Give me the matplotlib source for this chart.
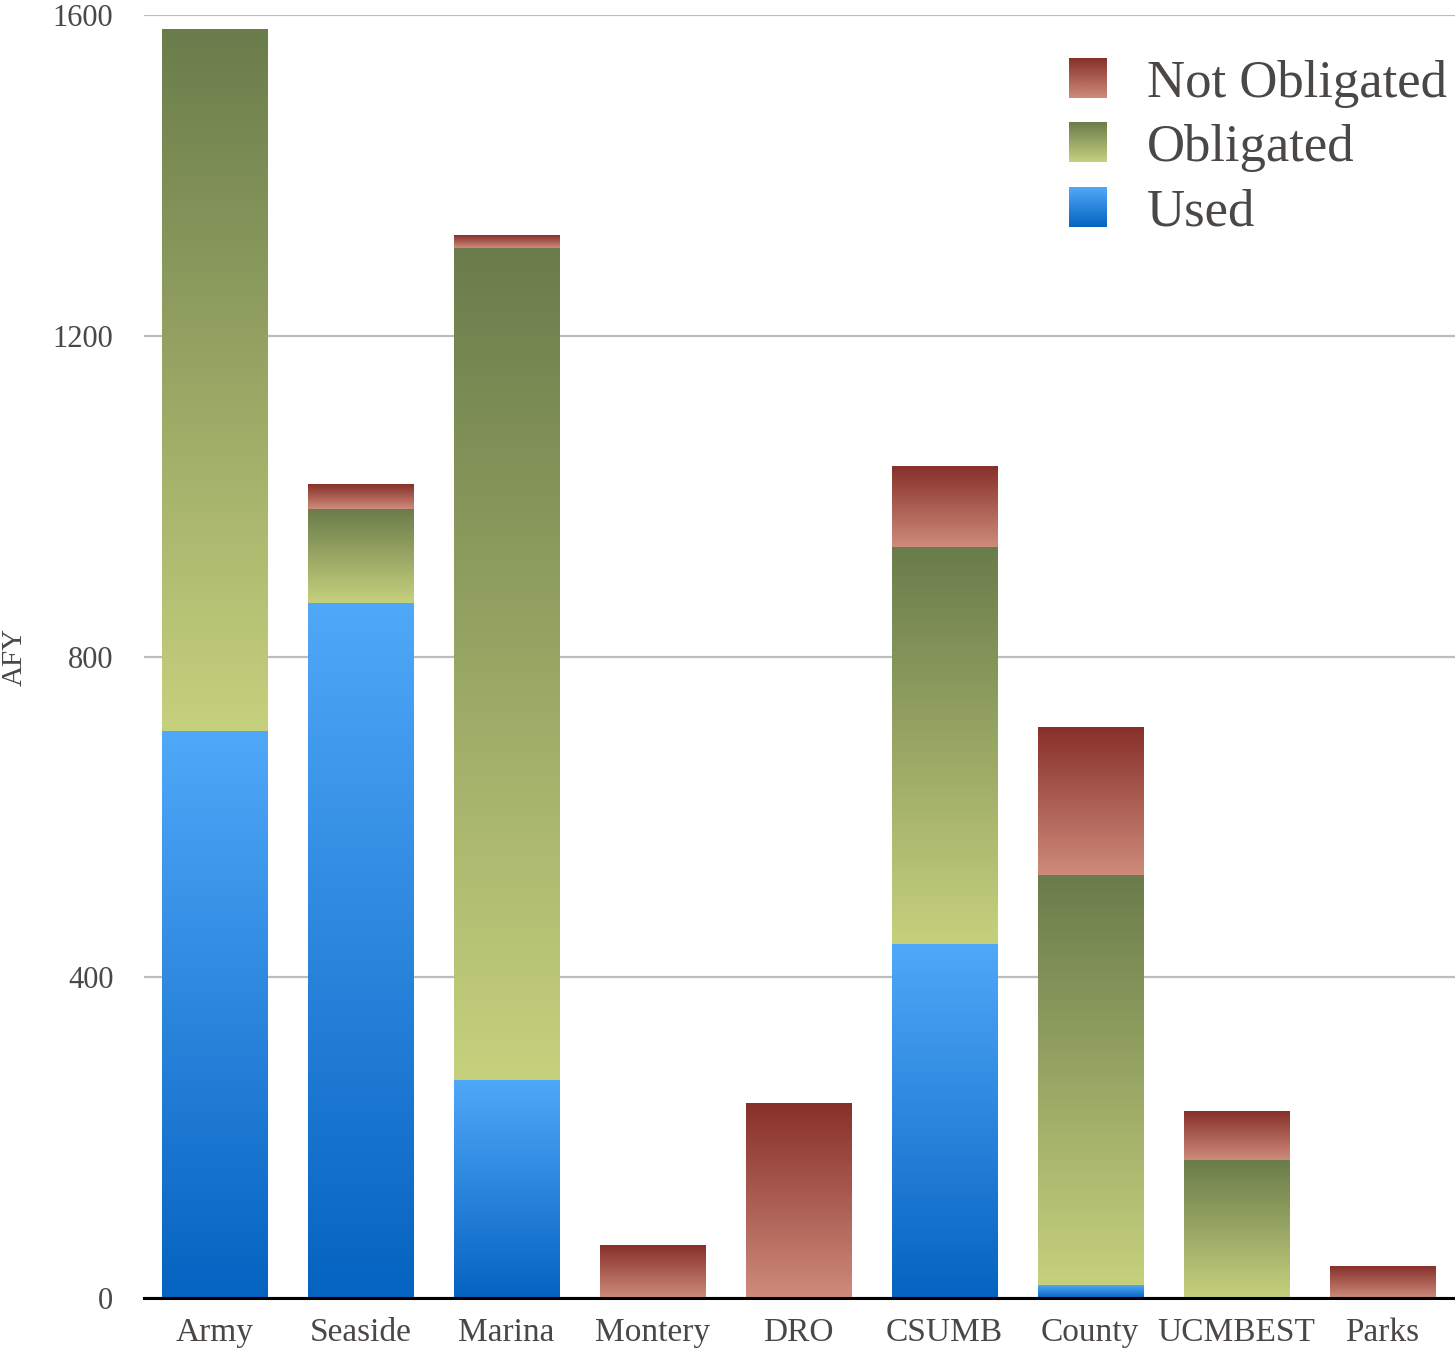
import numpy as np
import matplotlib
matplotlib.use('Agg')
import matplotlib.pyplot as plt
from matplotlib.colors import LinearSegmentedColormap
from matplotlib.legend_handler import HandlerBase
from matplotlib.image import BboxImage
from matplotlib.transforms import Bbox, TransformedBbox
from matplotlib.patches import Rectangle

# values in AFY
sites = ['Army', 'Seaside', 'Marina', 'Montery', 'DRO', 'CSUMB', 'County', 'UCMBEST', 'Parks']
used = [707, 867, 272, 0, 0, 441, 16, 0, 0]
obligated = [875, 117, 1038, 0, 0, 495, 511, 172, 0]
not_obligated = [0, 30, 15, 66, 242, 100, 184, 60, 39]

plt.rcParams['font.family'] = ['Liberation Serif', 'DejaVu Serif']
txt = '#4a4745'

# bottom colour first, top colour last
cm_used = LinearSegmentedColormap.from_list('used', ['#0563c1', '#50a8f8'])
cm_obl = LinearSegmentedColormap.from_list('obl', ['#c6d17d', '#6a7c4b'])
cm_not = LinearSegmentedColormap.from_list('not', ['#ce8b7b', '#87302a'])
grad = np.linspace(0, 1, 256).reshape(-1, 1)

fig = plt.figure(figsize=(14.55, 13.49), dpi=100)
ax = fig.add_axes([144/1455, 51/1349, 1 - 144/1455, (1298-15)/1349])

x = np.arange(len(sites))
w = 0.72
bottom = np.zeros(len(sites))
for vals, cm in [(used, cm_used), (obligated, cm_obl), (not_obligated, cm_not)]:
    bars = ax.bar(x, vals, w, bottom=bottom, color='none', edgecolor='none')
    for b in bars:
        if b.get_height() <= 0:
            continue
        x0, y0 = b.get_x(), b.get_y()
        ax.imshow(grad, extent=(x0, x0 + b.get_width(), y0, y0 + b.get_height()),
                  origin='lower', aspect='auto', cmap=cm, interpolation='bicubic', zorder=2)
    bottom += np.array(vals)

ax.set_xlim(-0.484, 8.5)
ax.set_ylim(0, 1600)
ax.set_yticks([0, 400, 800, 1200, 1600])
ax.set_xticks(x)
ax.set_xticklabels(sites)
ax.tick_params(axis='both', length=0, labelcolor=txt)
ax.tick_params(axis='y', pad=22, labelsize=22)
ax.tick_params(axis='x', pad=14, labelsize=24)
ax.yaxis.grid(True, color='#bdbdbd', linewidth=1.6, zorder=0)
ax.set_axisbelow(True)
for s in ['top', 'right', 'left']:
    ax.spines[s].set_visible(False)
ax.spines['bottom'].set_linewidth(2.2)
ax.spines['bottom'].set_zorder(3)
ax.set_ylabel('AFY', fontsize=21, color=txt)
ax.yaxis.set_label_coords(-0.0885, 0.5)


class GradHandler(HandlerBase):
    def __init__(self, cmap):
        super().__init__()
        self.cmap = cmap

    def create_artists(self, legend, orig_handle, xdescent, ydescent, width, height, fontsize, trans):
        bb = Bbox.from_bounds(-xdescent, -ydescent, width, height)
        img = BboxImage(TransformedBbox(bb, trans), cmap=self.cmap, origin='lower',
                        interpolation='bicubic')
        img.set_data(grad)
        return [img]


h_not, h_obl, h_used = Rectangle((0, 0), 1, 1), Rectangle((0, 0), 1, 1), Rectangle((0, 0), 1, 1)
leg = ax.legend([h_not, h_obl, h_used], ['Not Obligated', 'Obligated', 'Used'],
                handler_map={h_not: GradHandler(cm_not), h_obl: GradHandler(cm_obl),
                             h_used: GradHandler(cm_used)},
                loc='upper right', bbox_to_anchor=(0.994, 0.966), frameon=False, fontsize=38,
                handlelength=0.72, handleheight=0.76, handletextpad=0.76, labelspacing=0.3,
                borderaxespad=0, borderpad=0)
for t in leg.get_texts():
    t.set_color(txt)

fig.savefig('out.png', dpi=100)
